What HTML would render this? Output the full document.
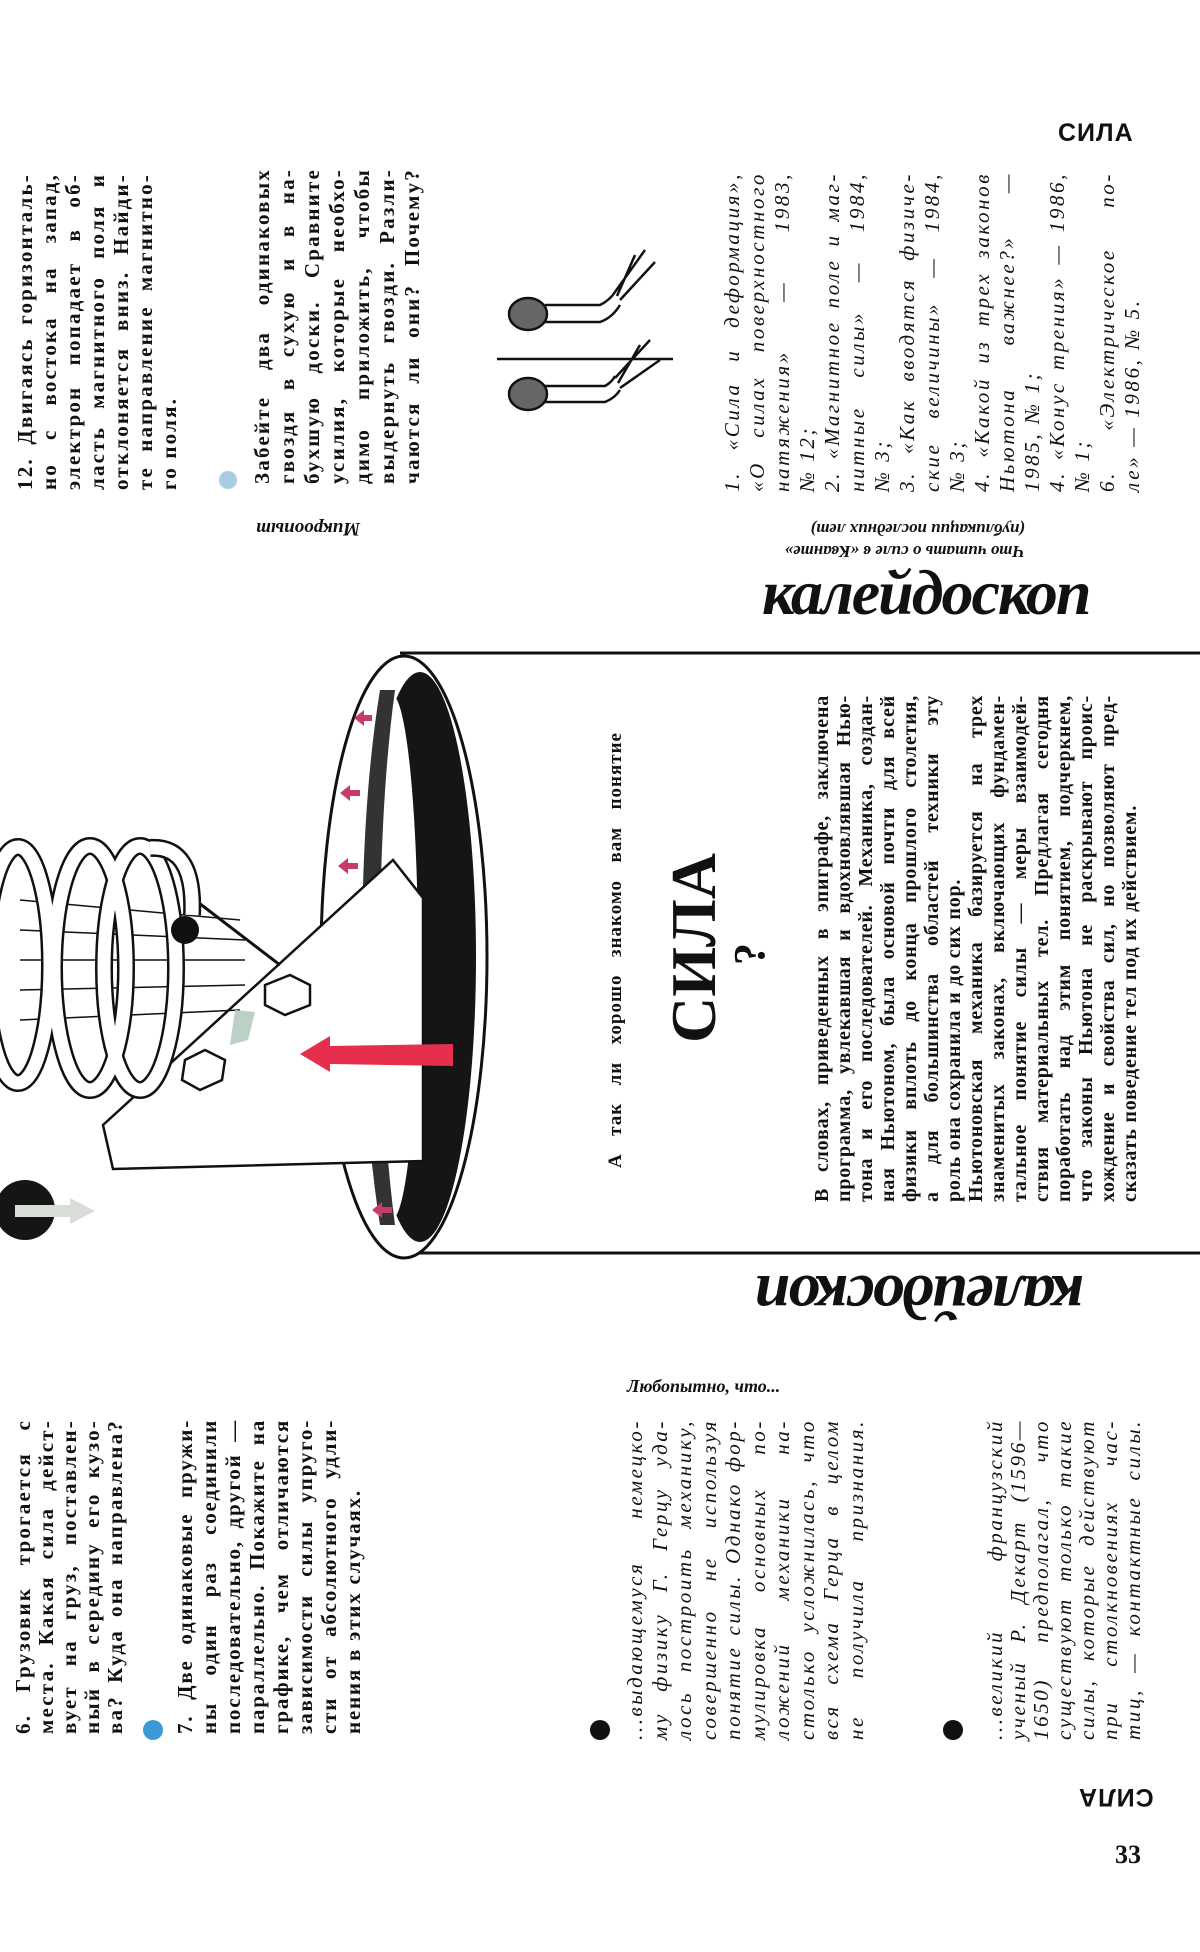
<!DOCTYPE html>
<html><head><meta charset="utf-8"><style>
html,body{margin:0;padding:0;background:#fff;}
body{width:1200px;height:1952px;position:relative;overflow:hidden;font-family:"Liberation Serif","DejaVu Serif",serif;color:#111;}
#rot{position:absolute;left:0;top:0;width:1952px;height:1200px;transform-origin:0 0;transform:translate(0,1952px) rotate(-90deg);}
.b{position:absolute;}
.b div{white-space:nowrap;text-align:justify;text-align-last:justify;overflow:visible;}
.b div.l{text-align-last:left;}
.it{font-style:italic;letter-spacing:2.6px;}
.sp{letter-spacing:2.2px;font-weight:bold;}
.abs{position:absolute;}
</style></head><body>

<svg class="abs" style="left:0;top:0" width="1200" height="1952">
  <line x1="400" y1="653" x2="1200" y2="653" stroke="#111" stroke-width="3"/>
  <line x1="400" y1="1253" x2="1200" y2="1253" stroke="#111" stroke-width="3"/>
  <ellipse cx="404" cy="957" rx="83" ry="301" fill="#fff" stroke="#111" stroke-width="3"/>
  <ellipse cx="420" cy="957" rx="56" ry="285" fill="#151515"/>
  <ellipse cx="392" cy="957" rx="26" ry="262" fill="#fff"/>
  <path d="M380 690 Q362 800 362 957 Q362 1110 380 1225 L395 1225 Q380 1110 380 957 Q380 800 395 690Z" fill="#333"/>
  <polygon points="103,1125 393,860 423,898 423,1161 113,1169" fill="#fff" stroke="#111" stroke-width="2.5"/>
  <polygon points="300,1054 330,1036 330,1046 453,1044 453,1066 330,1064 330,1072" fill="#e52f4c"/>
  <g fill="#c83a6a">
    <polygon points="354,718 364,710 364,715 372,715 372,721 364,721 364,726"/>
    <polygon points="340,793 350,785 350,790 360,790 360,796 350,796 350,801"/>
    <polygon points="338,866 348,858 348,863 358,863 358,869 348,869 348,874"/>
    <polygon points="372,1210 382,1202 382,1207 392,1207 392,1213 382,1213 382,1218"/>
  </g>
  <g stroke="#111" stroke-width="1.5">
    <line x1="20" y1="900" x2="240" y2="920"/><line x1="20" y1="930" x2="245" y2="940"/>
    <line x1="20" y1="960" x2="245" y2="960"/><line x1="20" y1="990" x2="245" y2="985"/>
    <line x1="20" y1="1020" x2="240" y2="1010"/>
    <line x1="195" y1="900" x2="280" y2="965" stroke-width="3"/>
  </g>
  <g fill="none" stroke="#111" stroke-width="18">
    <ellipse cx="18" cy="965" rx="32" ry="118"/>
    <ellipse cx="90" cy="968" rx="36" ry="122"/>
    <ellipse cx="140" cy="968" rx="36" ry="122"/>
  </g>
  <g fill="none" stroke="#fff" stroke-width="13">
    <ellipse cx="18" cy="965" rx="32" ry="118"/>
    <ellipse cx="90" cy="968" rx="36" ry="122"/>
    <ellipse cx="140" cy="968" rx="36" ry="122"/>
  </g>
  <path d="M150 848 Q195 845 192 915" fill="none" stroke="#111" stroke-width="18"/>
  <path d="M150 848 Q195 845 192 915" fill="none" stroke="#fff" stroke-width="13"/>
  <circle cx="185" cy="930" r="14" fill="#111"/>
  <polygon points="265,985 290,975 310,985 310,1005 285,1015 265,1005" fill="#fff" stroke="#111" stroke-width="2.5"/>
  <polygon points="185,1060 205,1050 225,1060 222,1080 200,1090 182,1080" fill="#fff" stroke="#111" stroke-width="2.5"/>
  <polygon points="235,1010 255,1012 248,1040 230,1045" fill="#bcd0c6"/>
  <circle cx="25" cy="1210" r="30" fill="#151515"/>
  <polygon points="15,1205 70,1205 70,1198 95,1211 70,1224 70,1217 15,1217" fill="#d8ddd8"/>
  <g stroke="#111" stroke-width="2.5" fill="none">
    <line x1="497" y1="359" x2="673" y2="359"/>
    <ellipse cx="528" cy="314" rx="19" ry="16" fill="#666"/>
    <ellipse cx="528" cy="394" rx="19" ry="16" fill="#666"/>
    <path d="M545 305 L600 305 Q610 300 615 292"/><path d="M545 322 L600 322 Q612 318 620 305"/>
    <path d="M545 386 L605 386 Q612 382 615 376"/><path d="M545 402 L605 402 Q615 398 620 390"/>
    <path d="M615 292 L645 250 M620 300 L655 262 M617 296 L635 255"/>
    <path d="M615 378 L650 340 M620 388 L660 360 M618 383 L640 345"/>
  </g>
  <circle cx="153" cy="1730" r="10" fill="#3a9ad8"/>
  <circle cx="228" cy="480" r="9" fill="#a9cde0"/>
  <circle cx="600" cy="1730" r="10" fill="#111"/>
  <circle cx="953" cy="1730" r="10" fill="#111"/>
</svg>

<div class="abs" style="left:1058px;top:119px;font:bold 25px 'Liberation Sans',sans-serif;letter-spacing:1px;">СИЛА</div>
<div class="abs" style="left:1078px;top:1782px;font:bold 25px 'Liberation Sans',sans-serif;letter-spacing:1px;transform:rotate(180deg);">СИЛА</div>
<div class="abs" style="left:1115px;top:1840px;font:bold 26px 'Liberation Serif',serif;">33</div>
<div class="abs" style="left:762px;top:556px;font:italic 900 64px 'Liberation Serif',serif;letter-spacing:-2px;">калейдоскоп</div>
<div class="abs" style="left:756px;top:1260px;font:italic 900 64px 'Liberation Serif',serif;letter-spacing:-2px;transform:rotate(180deg);">калейдоскоп</div>
<div class="abs" style="left:256px;top:517px;font:italic bold 19px 'Liberation Serif',serif;transform:rotate(180deg);">Микроопыт</div>
<div class="abs" style="left:720px;top:518px;width:305px;font:italic bold 17px 'Liberation Serif',serif;line-height:22px;transform:rotate(180deg);text-align:left;">Что читать о силе в «Кванте»<br>(публикации последних лет)</div>
<div class="abs" style="left:627px;top:1376px;font:italic bold 18px 'Liberation Serif',serif;">Любопытно, что...</div>

<div id="rot">
  <div class="b sp" style="left:1462px;top:13px;width:317px;font-size:21px;line-height:24px;">
    <div>12. Двигаясь горизонталь-</div><div>но с востока на запад,</div><div>электрон попадает в об-</div><div>ласть магнитного поля и</div><div>отклоняется вниз. Найди-</div><div>те направление магнитно-</div><div class="l">го поля.</div>
  </div>
  <div class="b sp" style="left:1468px;top:250px;width:316px;font-size:21px;line-height:25px;">
    <div>Забейте два одинаковых</div><div>гвоздя в сухую и в на-</div><div>бухшую доски. Сравните</div><div>усилия, которые необхо-</div><div>димо приложить, чтобы</div><div>выдернуть гвозди. Разли-</div><div>чаются ли они? Почему?</div>
  </div>
  <div class="b it" style="left:1460px;top:720px;width:320px;font-size:21px;line-height:25px;">
    <div>1. «Сила и деформация»,</div><div>«О силах поверхностного</div><div>натяжения» — 1983,</div><div class="l">№ 12;</div><div>2. «Магнитное поле и маг-</div><div>нитные силы» — 1984,</div><div class="l">№ 3;</div><div>3. «Как вводятся физиче-</div><div>ские величины» — 1984,</div><div class="l">№ 3;</div><div>4. «Какой из трех законов</div><div>Ньютона важнее?» —</div><div class="l">1985, № 1;</div><div>4. «Конус трения» — 1986,</div><div class="l">№ 1;</div><div>6. «Электрическое по-</div><div class="l">ле» — 1986, № 5.</div>
  </div>
  <div class="b" style="left:784px;top:604px;width:436px;font-size:19px;font-weight:bold;line-height:24px;letter-spacing:1px;"><div>А так ли хорошо знакомо вам понятие</div></div>
  <div class="b" style="left:905px;top:664px;width:198px;font:bold 64px 'Liberation Serif',serif;line-height:60px;text-align:center;">СИЛА</div>
  <div class="b" style="left:978px;top:728px;width:40px;font:bold 44px 'Liberation Serif',serif;line-height:44px;text-align:center;">?</div>
  <div class="b" style="left:750px;top:811px;width:507px;font-size:20px;font-weight:bold;line-height:22px;letter-spacing:0.8px;">
    <div>В словах, приведенных в эпиграфе, заключена</div><div>программа, увлекавшая и вдохновлявшая Нью-</div><div>тона и его последователей. Механика, создан-</div><div>ная Ньютоном, была основой почти для всей</div><div>физики вплоть до конца прошлого столетия,</div><div>а для большинства областей техники эту</div><div class="l">роль она сохранила и до сих пор.</div><div>Ньютоновская механика базируется на трех</div><div>знаменитых законах, включающих фундамен-</div><div>тальное понятие силы — меры взаимодей-</div><div>ствия материальных тел. Предлагая сегодня</div><div>поработать над этим понятием, подчеркнем,</div><div>что законы Ньютона не раскрывают проис-</div><div>хождение и свойства сил, но позволяют пред-</div><div class="l">сказать поведение тел под их действием.</div>
  </div>
  <div class="b sp" style="left:218px;top:12px;width:315px;font-size:21px;line-height:23px;">
    <div>6. Грузовик трогается с</div><div>места. Какая сила дейст-</div><div>вует на груз, поставлен-</div><div>ный в середину его кузо-</div><div>ва? Куда она направлена?</div>
  </div>
  <div class="b sp" style="left:218px;top:173px;width:315px;font-size:21px;line-height:24px;letter-spacing:1.8px;">
    <div>7. Две одинаковые пружи-</div><div>ны один раз соединили</div><div>последовательно, другой —</div><div>параллельно. Покажите на</div><div>графике, чем отличаются</div><div>зависимости силы упруго-</div><div>сти от абсолютного удли-</div><div class="l">нения в этих случаях.</div>
  </div>
  <div class="b it" style="left:212px;top:623px;width:321px;font-size:21px;line-height:24.5px;">
    <div>...выдающемуся немецко-</div><div>му физику Г. Герцу уда-</div><div>лось построить механику,</div><div>совершенно не используя</div><div>понятие силы. Однако фор-</div><div>мулировка основных по-</div><div>ложений механики на-</div><div>столько усложнилась, что</div><div>вся схема Герца в целом</div><div>не получила признания.</div>
  </div>
  <div class="b it" style="left:212px;top:984px;width:321px;font-size:21px;line-height:23px;">
    <div>...великий французский</div><div>ученый Р. Декарт (1596—</div><div>1650) предполагал, что</div><div>существуют только такие</div><div>силы, которые действуют</div><div>при столкновениях час-</div><div>тиц, — контактные силы.</div>
  </div>
</div>
</body></html>
